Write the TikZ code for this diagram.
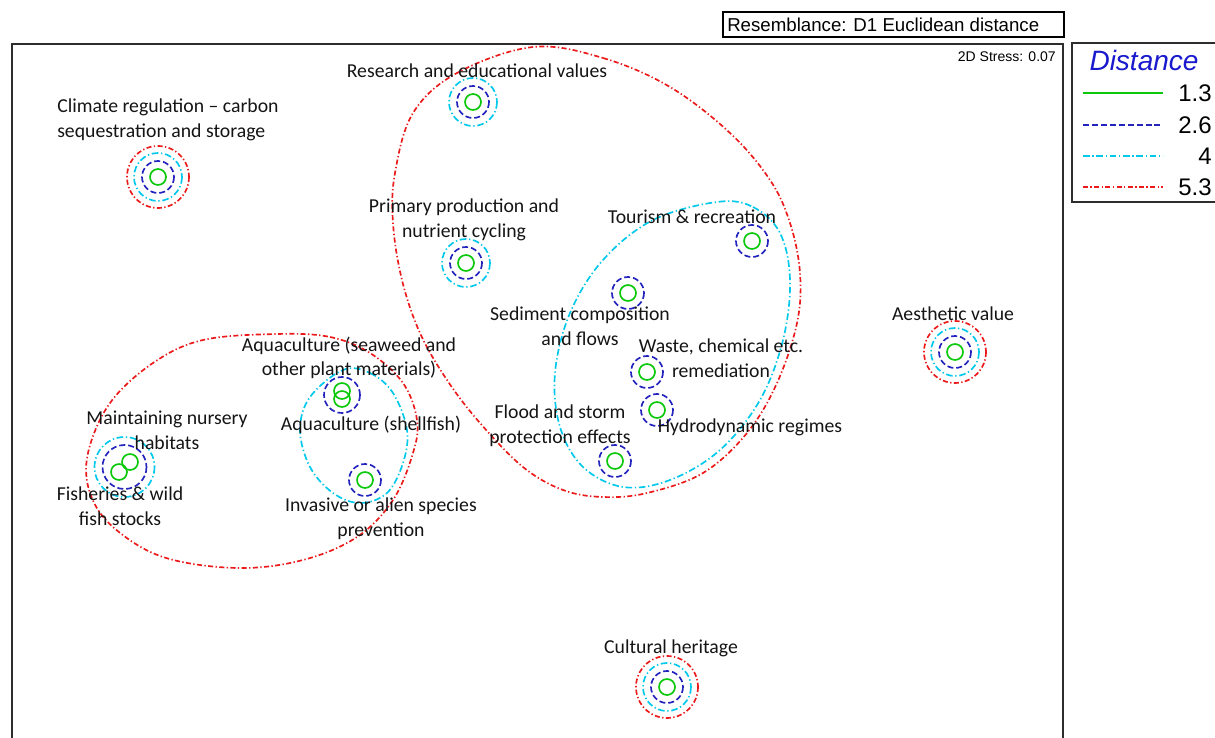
\documentclass[tikz,border=0pt]{standalone}
\usepackage{fontspec}
\setmainfont{Carlito}
\newfontfamily\arialf{Liberation Sans}
\definecolor{cgreen}{RGB}{10,200,10}
\definecolor{cblue}{RGB}{35,35,190}
\definecolor{ccyan}{RGB}{0,200,235}
\definecolor{cred}{RGB}{235,25,25}
\definecolor{cleg}{RGB}{25,25,205}
\definecolor{frame}{RGB}{45,45,45}
\begin{document}
\begin{tikzpicture}[x=0.75pt,y=-0.75pt,
  gc/.style={draw=cgreen, line width=1.25pt},
  bc/.style={draw=cblue, line width=1.25pt, dash pattern=on 4.5pt off 2.2pt},
  cc/.style={draw=ccyan, line width=1.25pt, dash pattern=on 5pt off 2pt on 1pt off 2pt},
  rc/.style={draw=cred, line width=1.25pt, dash pattern=on 3.8pt off 1.8pt on 1pt off 1.8pt},
  lab/.style={font=\fontsize{14.8}{18.5}\selectfont, align=center, inner sep=0pt, text=black!92},
  boxline/.style={draw=frame, line width=1.3pt}]
\useasboundingbox (0,0) rectangle (1215,738);
\clip (0,0) rectangle (1215,738);
% frames
\draw[boxline] (12,44) rectangle (1063,780);
\draw[boxline] (1072,43) rectangle (1240,202);
\draw[draw=black, line width=1pt] (723,12) rectangle (1064,37);
\node[anchor=west, inner sep=0pt, font=\arialf\fontsize{14}{16}\selectfont] (res) at (727,24.5) {Resemblance: D1 Euclidean distance};
\node[anchor=east, inner sep=0pt, font=\arialf\fontsize{10.5}{12}\selectfont] (stress) at (1056,57) {2D Stress: 0.07};
% legend
\node[inner sep=0pt, font=\arialf\itshape\fontsize{21}{24}\selectfont, text=cleg] (legt) at (1144,60) {Distance};
\coordinate (l1a) at (1083,93); \coordinate (l1b) at (1163,93);
\coordinate (l2a) at (1083,125); \coordinate (l2b) at (1163,125);
\coordinate (l3a) at (1083,156); \coordinate (l3b) at (1163,156);
\coordinate (l4a) at (1083,187); \coordinate (l4b) at (1163,187);
\draw[gc] (l1a) -- (l1b);
\draw[bc] (l2a) -- (l2b);
\draw[cc] (l3a) -- (l3b);
\draw[rc] (l4a) -- (l4b);
\node[anchor=east, inner sep=0pt, font=\arialf\fontsize{18}{20}\selectfont] (v1) at (1212,93) {1.3};
\node[anchor=east, inner sep=0pt, font=\arialf\fontsize{18}{20}\selectfont] (v2) at (1212,125) {2.6};
\node[anchor=east, inner sep=0pt, font=\arialf\fontsize{18}{20}\selectfont] (v3) at (1212,156) {4};
\node[anchor=east, inner sep=0pt, font=\arialf\fontsize{18}{20}\selectfont] (v4) at (1212,187) {5.3};
% large contours
\draw[rc] plot[smooth cycle, tension=0.6] coordinates {(533,47) (603,58) (670,87) (730,133) (770,180) (790,223) (800,273) (797,323) (777,383) (747,433) (703,473) (647,493) (603,497) (563,490) (523,467) (480,423) (447,380) (420,333) (402,280) (393,223) (395,173) (413,113) (457,73)};
\draw[cc] plot[smooth cycle, tension=0.6] coordinates {(717,202) (753,207) (780,233) (790,280) (783,340) (760,400) (720,450) (670,480) (623,487) (583,467) (560,427) (555,373) (570,313) (603,260) (653,220)};
\draw[rc] plot[smooth cycle, tension=0.6] coordinates {(277,334) (330,337) (370,353) (403,383) (417,420) (413,453) (393,500) (357,537) (303,560) (237,568) (163,557) (113,527) (90,493) (88,453) (110,403) (153,363) (203,340)};
\draw[cc] plot[smooth cycle, tension=0.6] coordinates {(343,370) (370,373) (393,393) (407,430) (403,463) (387,493) (360,503) (333,493) (310,467) (300,430) (310,397)};
% points with four levels
\foreach \px/\py in {158/177, 955/352, 667/687}{
  \draw[gc] (\px,\py) circle[radius=8];
  \draw[bc] (\px,\py) circle[radius=16];
  \draw[cc] (\px,\py) circle[radius=24];
  \draw[rc] (\px,\py) circle[radius=31];
}
% points with three levels
\foreach \px/\py in {473/102, 466/263}{
  \draw[gc] (\px,\py) circle[radius=8];
  \draw[bc] (\px,\py) circle[radius=16];
  \draw[cc] (\px,\py) circle[radius=24];
}
% points with two levels
\foreach \px/\py in {752/241, 628/293, 647/372, 657/410, 615/461, 365/480}{
  \draw[gc] (\px,\py) circle[radius=8];
  \draw[bc] (\px,\py) circle[radius=16];
}
% aquaculture pair
\draw[gc] (342,391) circle[radius=8];
\draw[gc] (342,399) circle[radius=8];
\draw[bc] (342,395) circle[radius=18];
% nursery / fisheries pair
\draw[gc] (130,462) circle[radius=8];
\draw[gc] (119,472) circle[radius=8];
\draw[bc] (124.5,467) circle[radius=22];
\draw[cc] (124.5,467) circle[radius=30];
% labels
\node[lab] (tres) at (477,71) {Research and educational values};
\node[lab, align=left, anchor=west] (tclim) at (57,120) {Climate regulation -- carbon\\sequestration and storage};
\node[lab] (tprim) at (464,220) {Primary production and\\nutrient cycling};
\node[lab] (ttour) at (692,217) {Tourism \& recreation};
\node[lab] (tsed) at (580,326) {Sediment composition\\and flows};
\node[lab] (twaste) at (721,358) {Waste, chemical etc.\\remediation};
\node[lab] (thyd) at (750,427) {Hydrodynamic regimes};
\node[lab] (tflood) at (560,426) {Flood and storm\\protection effects};
\node[lab] (taest) at (953,314) {Aesthetic value};
\node[lab] (taqsw) at (349,358) {Aquaculture (seaweed and\\other plant materials)};
\node[lab] (taqsh) at (371,425) {Aquaculture (shellfish)};
\node[lab] (tnurs) at (167,430) {Maintaining nursery\\habitats};
\node[lab] (tfish) at (120,506) {Fisheries \& wild\\fish stocks};
\node[lab] (tinv) at (381,519) {Invasive or alien species\\prevention};
\node[lab] (tcult) at (671,648) {Cultural heritage};
\end{tikzpicture}
\end{document}
